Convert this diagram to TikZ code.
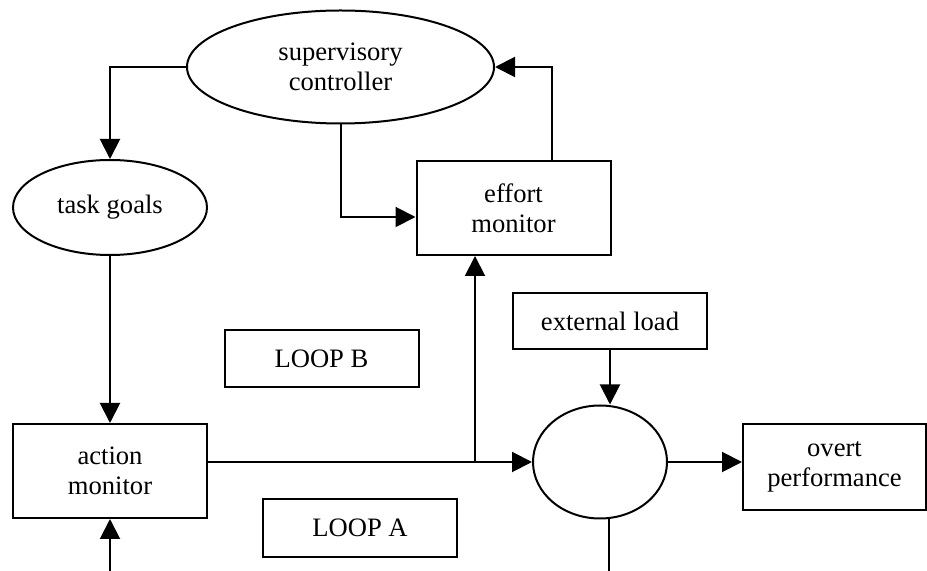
\documentclass[tikz,border=0pt]{standalone}
\usepackage{fontspec}
\setmainfont{Liberation Serif}
\usetikzlibrary{arrows.meta}
\usetikzlibrary{shapes.geometric}

\begin{document}
\begin{tikzpicture}[x=0.5pt, y=-0.5pt, line width=1pt,
    every path/.style={-{Triangle[length=10pt, width=10pt]}},
    every node/.style={font=\fontsize{13.3}{15}\selectfont, align=center, inner sep=0pt},
    box/.style={draw, rectangle, minimum width=97pt},
    oval/.style={draw, ellipse}]
    \useasboundingbox (0, 0) rectangle (927, 571);

    \node (super) [oval, minimum width=153.5pt, minimum height=56.5pt, at={(340.5, 67)}] {supervisory\\controller};
    \node (goals) [oval, minimum width=97pt, minimum height=47.5pt, at={(110, 207.5)}] {task goals};
    \node (action) [box, minimum height=47pt, at={(110, 471)}] {action\\monitor};
    \node (effort) [box, minimum height=47pt, at={(513.5, 208)}] {effort\\monitor};
    \node (loop-b) [box, minimum height=28.5pt, at={(321.5, 358.5)}] {LOOP B};
    \node (loop-a) [box, minimum height=29pt, at={(360, 528)}] {LOOP A};
    \node (load) [box, minimum height=28pt, at={(610, 321)}] {external load};
    \node (sum) [oval, minimum width=67pt, minimum height=56.5pt, at={(600, 462)}] {};
    \node (overt) [box, minimum width=91.5pt, minimum height=43pt, at={(834.5, 467)}] {overt\\performance};

    \coordinate (action-in) at (110, 571);
    \coordinate (sum-out) at (609, 571);
    \coordinate (split) at (475, 462);

    \draw (super.west) -| (goals.north);
    \draw (goals.south) -- (action.north);
    \draw (action-in) -- (action.south);
    \draw [-{}] (sum.west -| action.east) -- (split);
    \draw (split) -- (sum.west);
    \draw (split) -- (split |- effort.south);
    \draw (super.south) |- ([yshift=-4.5pt] effort.west);
    \draw ([xshift=19pt] effort.north) |- (super.east);
    \draw (load.south) -- (load.south |- sum.north);
    \draw (sum.east) -- (sum.east -| overt.west);
    \draw [-{}] (sum-out |- sum.south) -- (sum-out);
\end{tikzpicture}
\end{document}
